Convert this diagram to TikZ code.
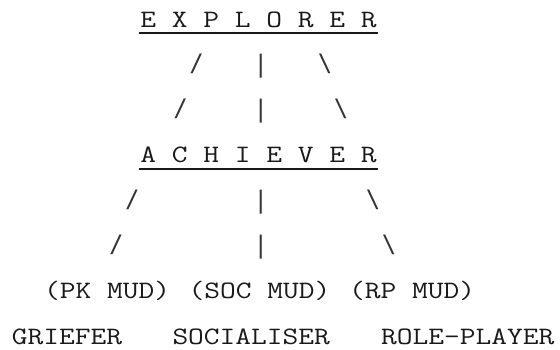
\documentclass[tikz,border=0pt]{standalone}
\usepackage{fontspec}
\usepackage{graphicx}
\newfontfamily\glyphfont{DejaVu Sans Mono}
\newcommand{\mtext}[1]{\scalebox{1.223}[1]{#1}}
\tikzset{
  txt/.style={inner sep=0pt, outer sep=0pt, anchor=base west,
    font=\ttfamily\fontsize{25}{25}\selectfont, text=black!90},
  lnk/.style={inner sep=0pt, outer sep=0pt, anchor=base,
    font=\glyphfont\fontsize{24}{24}\selectfont, text=black!80},
  uline/.style={line width=1.2pt, draw=black!90}
}
\begin{document}
\begin{tikzpicture}[x=1pt,y=-1pt]
\fill[white] (0,0) rectangle (560,349);
\useasboundingbox (0,0) rectangle (560,349);
% row 1
\node[txt] (explorer) at (140.4,27) {\mtext{E X P L O R E R}};
\draw[uline] ([xshift=-1pt,yshift=-6pt]explorer.base west) -- ([xshift=1pt,yshift=-6pt]explorer.base east);
% rows 2-3
\node[lnk] (l1) at (196.58,71.3) {/};
\node[lnk] (m1) at (260.78,72.3) {|};
\node[lnk] (r1) at (324.98,71.3) {\textbackslash};
\node[lnk] (l2) at (180.53,116.6) {/};
\node[lnk] (m2) at (260.78,117.6) {|};
\node[lnk] (r2) at (341.03,116.6) {\textbackslash};
% row 4
\node[txt] (achiever) at (140.4,162.9) {\mtext{A C H I E V E R}};
\draw[uline] ([xshift=-1pt,yshift=-6pt]achiever.base west) -- ([xshift=1pt,yshift=-6pt]achiever.base east);
% rows 5-6
\node[lnk] (l3) at (132.38,207.1) {/};
\node[lnk] (m3) at (260.78,208.1) {|};
\node[lnk] (r3) at (373.13,207.1) {\textbackslash};
\node[lnk] (l4) at (116.33,252.4) {/};
\node[lnk] (m4) at (260.78,253.4) {|};
\node[lnk] (r4) at (389.18,252.4) {\textbackslash};
% row 7
\node[txt] (pk) at (44.1,298.7) {\mtext{(PK MUD)}};
\node[txt] (soc) at (188.55,298.7) {\mtext{(SOC MUD)}};
\node[txt] (rp) at (349.05,298.7) {\mtext{(RP MUD)}};
% row 8
\node[txt] (griefer) at (12,344) {\mtext{GRIEFER}};
\node[txt] (socialiser) at (172.5,344) {\mtext{SOCIALISER}};
\node[txt] (roleplayer) at (381.15,344) {\mtext{ROLE-PLAYER}};
\end{tikzpicture}
\end{document}
